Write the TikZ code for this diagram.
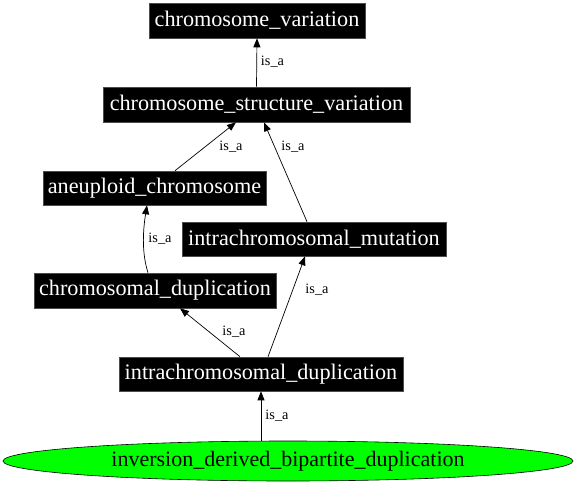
\documentclass[tikz,border=0pt]{standalone}
\usepackage{fontspec}
\setmainfont{Liberation Serif}
\usetikzlibrary{arrows.meta,shapes.geometric,calc}
\tikzset{
  term/.style={rectangle,fill=black,draw=black!70,line width=0.6pt,text=white,inner sep=0pt,
    font=\fontsize{22.2}{24}\selectfont},
  leaf/.style={ellipse,fill=green,draw=black,line width=0.6pt,text=black,inner sep=0pt,
    font=\fontsize{22}{24}\selectfont},
  edge/.style={draw=black,line width=0.7pt,-{Triangle[length=9pt,width=7pt]}},
  elabel/.style={font=\fontsize{14.3}{16}\selectfont,inner sep=0pt}
}
\begin{document}
\begin{tikzpicture}[x=1pt,y=-1pt]
\useasboundingbox (0,0) rectangle (576,485);
\node[term,minimum width=216pt,minimum height=35pt] (cv) at (257,20.5) {chromosome\_variation};
\node[term,minimum width=307pt,minimum height=35pt] (csv) at (256.5,104.5) {chromosome\_structure\_variation};
\node[term,minimum width=223pt,minimum height=34pt] (an) at (154.5,188) {aneuploid\_chromosome};
\node[term,minimum width=264pt,minimum height=34pt] (im) at (314,239) {intrachromosomal\_mutation};
\node[term,minimum width=242pt,minimum height=35pt] (cd) at (155,290.5) {chromosomal\_duplication};
\node[term,minimum width=284pt,minimum height=34pt] (id) at (261,374) {intrachromosomal\_duplication};
\node[leaf,minimum width=570pt,minimum height=40pt] (el) at (288,461) {inversion\_derived\_bipartite\_duplication};

\draw[edge] (csv.north) -- (cv.south);
\draw[edge] ($(an.north)+(20.5,0)$) -- ($(csv.south)+(-20.5,0)$);
\draw[edge] ($(im.north)+(-7,0)$) -- ($(csv.south)+(7.5,0)$);
\draw[edge] ($(cd.north)+(-7,0)$) .. controls ($(cd.north)+(-14,-22)$) and ($(an.south)+(-11,22)$) .. ($(an.south)+(-7.5,0)$);
\draw[edge] ($(id.north)+(-21,0)$) -- ($(cd.south)+(25,0)$);
\draw[edge] ($(id.north)+(7,0)$) .. controls ($(id.north)+(20,-35)$) and ($(im.south)+(-18,25)$) .. ($(im.south)+(-9,0)$);
\draw[edge] ($(el.north)+(-27,0)$) -- (id.south);

\node[elabel] (l1) at (272.5,62) {is\_a};
\node[elabel] (l2) at (231,147) {is\_a};
\node[elabel] (l3) at (293,147) {is\_a};
\node[elabel] (l4) at (160,239) {is\_a};
\node[elabel] (l5) at (234,332) {is\_a};
\node[elabel] (l6) at (317,290) {is\_a};
\node[elabel] (l7) at (277,416) {is\_a};
\end{tikzpicture}
\end{document}
